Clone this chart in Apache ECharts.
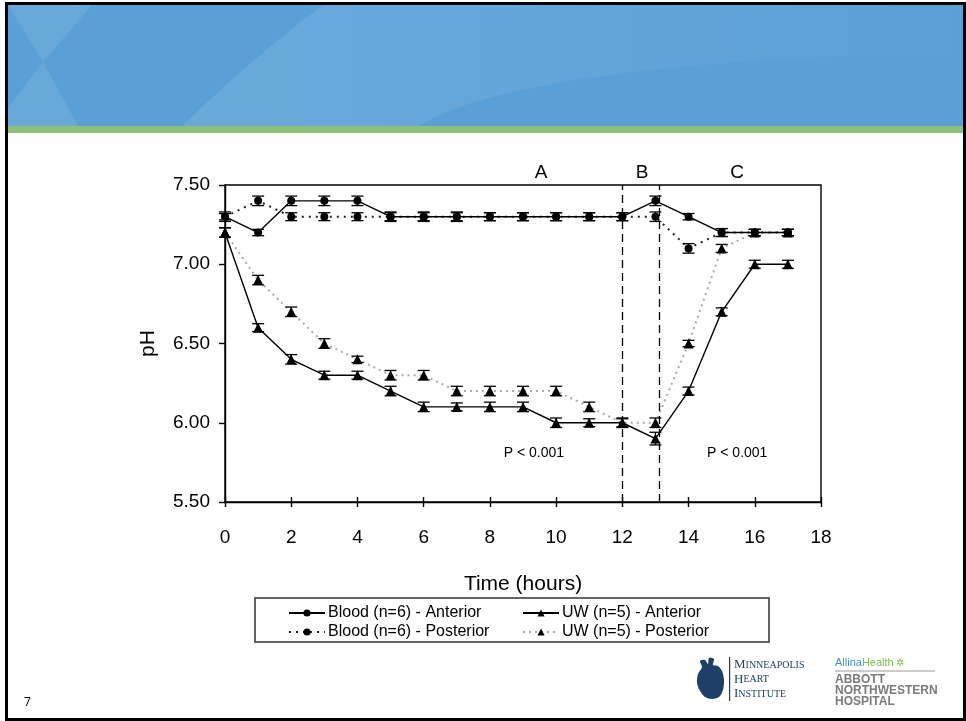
<!DOCTYPE html>
<html><head><meta charset="utf-8">
<script src="https://cdn.jsdelivr.net/npm/echarts@6/dist/echarts.min.js"></script>
<style>html,body{margin:0;padding:0;background:#fff}#c{width:966px;height:721px}</style>
</head><body><div id="c"></div>
<script>
// ---- data ----
const hours = [0,1,2,3,4,5,6,7,8,9,10,11,12,13,14,15,16,17];
const bloodAnterior  = [7.3,7.2,7.4,7.4,7.4,7.3,7.3,7.3,7.3,7.3,7.3,7.3,7.3,7.4,7.3,7.2,7.2,7.2];
const bloodPosterior = [7.3,7.4,7.3,7.3,7.3,7.3,7.3,7.3,7.3,7.3,7.3,7.3,7.3,7.3,7.1,7.2,7.2,7.2];
const uwAnterior     = [7.2,6.6,6.4,6.3,6.3,6.2,6.1,6.1,6.1,6.1,6.0,6.0,6.0,5.9,6.2,6.7,7.0,7.0];
const uwPosterior    = [7.2,6.9,6.7,6.5,6.4,6.3,6.3,6.2,6.2,6.2,6.2,6.1,6.0,6.0,6.5,7.1,7.2,7.2];
const bloodAnteriorErr  = [0.03,0.02,0.03,0.03,0.03,0.03,0.03,0.03,0.025,0.025,0.025,0.025,0.025,0.03,0.02,0.025,0.02,0.02];
const bloodPosteriorErr = [0.02,0.03,0.025,0.025,0.025,0.025,0.025,0.025,0.025,0.025,0.025,0.025,0.025,0.03,0.03,0.025,0.02,0.02];
const uwAnteriorErr     = [0.03,0.025,0.03,0.025,0.025,0.03,0.03,0.025,0.03,0.03,0.03,0.025,0.025,0.04,0.025,0.025,0.025,0.025];
const uwPosteriorErr    = [0.03,0.03,0.03,0.03,0.02,0.03,0.03,0.03,0.03,0.03,0.03,0.03,0.03,0.03,0.02,0.025,0.02,0.02];
const seriesNames = ['Blood (n=6) - Anterior','Blood (n=6) - Posterior','UW (n=5) - Anterior','UW (n=5) - Posterior'];
const phaseBounds = [12, 13.1];
const phaseLabels = ['A','B','C'];
const phaseLabelX = [9.55, 12.6, 15.47];
const pLabels = ['P < 0.001','P < 0.001'];
const pLabelX = [9.33, 15.47];
const pLabelY = 5.81;

const FONT = "'Liberation Sans', Arial, sans-serif";
const pairs = (ys) => hours.map((h,i)=>[h, ys[i]]);
const errTriples = (ys, es) => hours.map((h,i)=>[h, ys[i], es[i]]);

const chart = echarts.init(document.getElementById('c'), null, {renderer:'canvas'});

function errRender(params, api){
  const x = api.value(0), y = api.value(1), e = api.value(2);
  const t = api.coord([x, y + e]), b = api.coord([x, y - e]);
  const hw = 6;
  const st = {stroke:'#000', lineWidth:1.3};
  return {type:'group', children:[
    {type:'line', shape:{x1:t[0],y1:t[1],x2:b[0],y2:b[1]}, style:st},
    {type:'line', shape:{x1:t[0]-hw,y1:t[1],x2:t[0]+hw,y2:t[1]}, style:st},
    {type:'line', shape:{x1:b[0]-hw,y1:b[1],x2:b[0]+hw,y2:b[1]}, style:st}
  ]};
}

const lineSeries = (name, ys, symbol, size, lineStyle, z) => ({
  name, type:'line', data: pairs(ys), symbol, symbolSize:size,
  itemStyle:{color:'#000'}, lineStyle, z, animation:false, clip:false
});

const series = [
  lineSeries(seriesNames[3], uwPosterior, 'triangle', 10, {color:'#aaa', width:2, type:[2,4]}, 2),
  lineSeries(seriesNames[1], bloodPosterior, 'circle', 8, {color:'#222', width:2, type:[2,5]}, 3),
  lineSeries(seriesNames[2], uwAnterior, 'triangle', 10, {color:'#000', width:1.4, type:'solid'}, 4),
  Object.assign(lineSeries(seriesNames[0], bloodAnterior, 'circle', 8, {color:'#000', width:1.4, type:'solid'}, 5), {
    markLine:{silent:true, symbol:'none', animation:false, label:{show:false},
      lineStyle:{color:'#000', width:1.3, type:[8,5]},
      data: phaseBounds.map(v=>({xAxis:v}))}
  })
];
[[bloodAnterior,bloodAnteriorErr],[bloodPosterior,bloodPosteriorErr],[uwAnterior,uwAnteriorErr],[uwPosterior,uwPosteriorErr]].forEach((p,i)=>{
  series.push({name:'err'+i, type:'custom', renderItem:errRender, data:errTriples(p[0],p[1]),
    encode:{x:0,y:1}, z:6, animation:false, clip:false});
});

const legendCommon = {
  orient:'vertical', itemWidth:36, itemHeight:9, itemGap:3,
  textStyle:{fontFamily:FONT, fontSize:16, color:'#000', padding:[0,0,0,-2]},
  selectedMode:false
};

const option = {
  backgroundColor:'#fff',
  animation:false,
  grid:{left:225, right:145, top:185, bottom:219, show:true, borderColor:'#000', borderWidth:1.4, backgroundColor:'transparent'},
  legend:[
    Object.assign({}, legendCommon, {left:283, top:600, data:[seriesNames[0], seriesNames[1]]}),
    Object.assign({}, legendCommon, {left:517, top:600, data:[seriesNames[2], seriesNames[3]]})
  ],
  xAxis:[{
    type:'value', min:0, max:18, interval:2,
    name:'Time (hours)', nameLocation:'middle', nameGap:72,
    nameTextStyle:{fontFamily:FONT, fontSize:21, color:'#000'},
    axisLine:{show:true, lineStyle:{color:'#000', width:1.4}},
    axisTick:{show:true, length:5, lineStyle:{color:'#000', width:1.4}},
    axisLabel:{fontFamily:FONT, fontSize:19, color:'#000', margin:26},
    splitLine:{show:false}
  },{
    type:'value', min:0, max:18, interval:2, position:'bottom',
    axisLine:{show:false}, axisLabel:{show:false}, splitLine:{show:false},
    axisTick:{show:true, inside:true, length:5, lineStyle:{color:'#000', width:1.4}}
  }],
  yAxis:{
    type:'value', min:5.5, max:7.5, interval:0.5,
    name:'pH', nameLocation:'middle', nameGap:66, nameRotate:90,
    nameTextStyle:{fontFamily:FONT, fontSize:21, color:'#000'},
    axisLine:{show:true, lineStyle:{color:'#000', width:1.4}},
    axisTick:{show:true, length:6, lineStyle:{color:'#000', width:1.4}},
    axisLabel:{fontFamily:FONT, fontSize:19, color:'#000', margin:15, formatter:v=>v.toFixed(2)},
    splitLine:{show:false}
  },
  series
};
chart.setOption(option);

// ---- annotations & slide decoration ----
function quad(p0, c, p1, n){
  const pts = [];
  for (let i=0;i<=n;i++){ const t=i/n, u=1-t;
    pts.push([u*u*p0[0]+2*u*t*c[0]+t*t*p1[0], u*u*p0[1]+2*u*t*c[1]+t*t*p1[1]]); }
  return pts;
}
const g = [];
// slide frame
g.push({type:'rect', shape:{x:5,y:2,width:961,height:719}, style:{fill:'#000'}, z:-10});
g.push({type:'rect', shape:{x:8,y:5,width:955,height:713}, style:{fill:'#fff'}, z:-9});
// header
g.push({type:'rect', shape:{x:8,y:5,width:955,height:121}, style:{fill:'#5a9fd5'}, z:-8});
g.push({type:'polygon', shape:{points:[[8,5],[92,5],[43,62]]}, style:{fill:'#69a9da'}, z:-7});
g.push({type:'polygon', shape:{points:[[43,62],[8,108],[8,126],[78,126]]}, style:{fill:'#69a9da'}, z:-7});
const bandPts = [].concat(quad([323,5],[250,60],[182,126],16), quad([419,126],[520,62],[963,52],20), [[963,5]]);
g.push({type:'polygon', shape:{points:bandPts},
  style:{fill:{type:'linear', x:0, y:0, x2:1, y2:0, global:false,
    colorStops:[{offset:0,color:'#6aaadb'},{offset:0.4,color:'#66a6d9'},{offset:1,color:'#5a9fd5'}]}}, z:-7});
g.push({type:'rect', shape:{x:8,y:126,width:955,height:7}, style:{fill:'#8fc07a'}, z:-6});
// page number
g.push({type:'text', style:{text:'7', x:24, y:703, fontFamily:"'Open Sans', sans-serif", fontSize:12, fill:'#000', verticalAlign:'middle'}});
// legend box
g.push({type:'rect', shape:{x:255,y:598,width:514,height:44}, style:{fill:'none', stroke:'#333', lineWidth:1.5}, z:1});
// phase labels
phaseLabels.forEach((t,i)=>{
  const px = chart.convertToPixel({xAxisIndex:0}, phaseLabelX[i]);
  g.push({type:'text', style:{text:t, x:px, y:173, align:'center', verticalAlign:'middle', fontFamily:FONT, fontSize:19, fill:'#000'}});
});
pLabels.forEach((t,i)=>{
  const p = chart.convertToPixel({xAxisIndex:0, yAxisIndex:0}, [pLabelX[i], pLabelY]);
  g.push({type:'text', style:{text:t, x:p[0], y:p[1], align:'center', verticalAlign:'middle', fontFamily:"'Liberation Sans Narrow', 'Arial Narrow', " + FONT, fontSize:14, fill:'#000'}});
});
// Minneapolis Heart Institute logo
const navy = '#1e3f66';
const heartPts = [[702,667],[698,674],[697,683],[700,691],[705,697],[712,699],[719,697],[723,690],[724,680],[722,671],[718,666],[713,665],[714,659],[709,658],[708,664],[705,660],[700,661]];
g.push({type:'polygon', shape:{points:heartPts, smooth:0.3}, style:{fill:navy}});
g.push({type:'rect', shape:{x:729,y:657,width:1.2,height:44}, style:{fill:navy}});
['MINNEAPOLIS','HEART','INSTITUTE'].forEach((w,i)=>{
  g.push({type:'text', style:{x:734, y:665+i*14.5, verticalAlign:'middle',
    text:'{a|'+w[0]+'}{b|'+w.slice(1)+'}',
    rich:{a:{fontFamily:"'Liberation Serif', 'DejaVu Serif', serif", fontSize:13, fill:navy},
          b:{fontFamily:"'Liberation Serif', 'DejaVu Serif', serif", fontSize:10, fill:navy}}}});
});
// Allina / Abbott Northwestern logo
g.push({type:'text', style:{x:835, y:663, verticalAlign:'middle', text:'{a|Allina}{b|Health}{c| ✲}',
  rich:{a:{fontFamily:FONT, fontSize:11, fill:'#3f8fd0'}, b:{fontFamily:FONT, fontSize:11, fill:'#7dbb4e'}, c:{fontFamily:FONT, fontSize:10, fill:'#7dbb4e'}}}});
g.push({type:'rect', shape:{x:835,y:670.5,width:100,height:1}, style:{fill:'#999'}});
['ABBOTT','NORTHWESTERN','HOSPITAL'].forEach((w,i)=>{
  g.push({type:'text', style:{x:835, y:680+i*11, verticalAlign:'middle', text:w, fontFamily:FONT, fontSize:12, fontWeight:'bold', fill:'#7a7a7a'}});
});
chart.setOption({graphic:g});
</script>
</body></html>
